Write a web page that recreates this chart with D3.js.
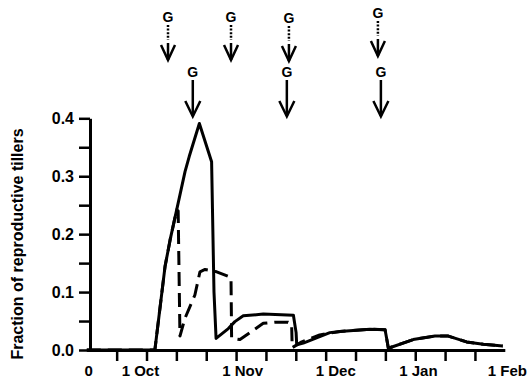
<!DOCTYPE html>
<html>
<head>
<meta charset="utf-8">
<script src="https://cdn.jsdelivr.net/npm/d3@7"></script>
<style>
  body { margin: 0; background: #fff; }
  text { font-family: "Liberation Sans", Arial, sans-serif; font-weight: bold; }
</style>
</head>
<body>
<svg id="chart" width="528" height="381"></svg>
<script>
// days since start (0 = mid Sept), fraction of reproductive tillers
var solidDays = [0, 22.8, 26.2, 27.9, 30.1, 32.9, 34.3, 37.7, 41.8, 42.6, 43.3, 47.4, 49.6, 52.4, 59.1, 69.2, 70.1, 70.3, 72.5, 81.4, 84.8, 94.8, 99.9, 100.6, 101, 109.3, 116.6, 121.1, 127.2, 132.8, 139.3];
var solidVals = [0, 0, 0.144, 0.19, 0.242, 0.308, 0.334, 0.391, 0.325, 0.1, 0.02, 0.037, 0.049, 0.059, 0.062, 0.06, 0.03, 0.009, 0.012, 0.03, 0.032, 0.036, 0.035, 0.015, 0.003, 0.018, 0.024, 0.024, 0.014, 0.01, 0.007];

var dashDays = [0, 22.8, 26.2, 27.9, 30.1, 30.6, 31.2, 32.9, 36.2, 37.9, 39.6, 43.5, 47.4, 48.3, 48.5, 51.3, 59.1, 63, 67.4, 68.6, 68.8, 72, 78, 84.8, 94.8, 99.9, 101, 109.3, 116.6, 121.1, 127.2, 132.8, 139.3];
var dashVals = [0, 0, 0.144, 0.19, 0.242, 0.24, 0.024, 0.055, 0.095, 0.135, 0.139, 0.135, 0.127, 0.124, 0.02, 0.018, 0.046, 0.048, 0.048, 0.045, 0.004, 0.014, 0.026, 0.032, 0.036, 0.035, 0.003, 0.018, 0.024, 0.024, 0.014, 0.01, 0.007];

var xTickDays = [10, 20, 30, 40, 50, 60, 70, 80, 90, 100, 110, 120, 130];
var xLabels = ["0", "1 Oct", "1 Nov", "1 Dec", "1 Jan", "1 Feb"];
var xLabelDays = [0.5, 17.8, 52, 83.2, 110.9, 140.7];
var yTicks = [0, 0.05, 0.1, 0.15, 0.2, 0.25, 0.3, 0.35, 0.4];

// grazing events (G)
var dottedArrowDays = [27.2, 48.3, 67.7, 97.5];
var solidArrowDays = [35.5, 67.0, 98.5];

var svg = d3.select("#chart");
var x = d3.scaleLinear().domain([0, 140]).range([86.8, 504.8]);
var y = d3.scaleLinear().domain([0, 0.4]).range([350, 118.3]);

function styleAxis(g) {
    g.selectAll("path.domain").attr("stroke", "#000").attr("stroke-width", 3);
    g.selectAll(".tick line").attr("stroke", "#000").attr("stroke-width", 2.5);
    g.selectAll("text").attr("fill", "#000");
}

// y axis
svg.append("g")
    .attr("transform", "translate(90,0)")
    .call(d3.axisLeft(y).tickValues(yTicks).tickSize(11).tickSizeOuter(0).tickPadding(5)
        .tickFormat(d => (Math.round(d * 100) % 10 === 0 ? d.toFixed(1) : "")))
    .call(styleAxis)
    .selectAll("text").style("font-size", "16px").style("font-weight", "bold")
    .style("font-family", "'Liberation Sans', Arial, sans-serif");

// x axis ticks
svg.append("g")
    .attr("transform", "translate(0,350)")
    .call(d3.axisBottom(x).tickValues(xTickDays).tickSize(11).tickSizeOuter(0).tickFormat(""))
    .call(styleAxis);

// x axis labels
var labelAxis = svg.append("g")
    .attr("transform", "translate(0,350)")
    .call(d3.axisBottom(x).tickValues(xLabelDays).tickSize(0).tickPadding(15)
        .tickFormat((d, i) => xLabels[i]));
labelAxis.select("path.domain").remove();
labelAxis.selectAll("text").attr("fill", "#000").style("font-size", "15px")
    .style("font-weight", "bold").style("font-family", "'Liberation Sans', Arial, sans-serif");

// y label
svg.append("text")
    .attr("transform", "translate(23,244) rotate(-90)")
    .attr("text-anchor", "middle")
    .style("font-size", "16px")
    .text("Fraction of reproductive tillers");

var line = d3.line().x(d => x(d[0])).y(d => y(d[1]));

svg.append("path")
    .datum(dashDays.map((d, i) => [d, dashVals[i]]))
    .attr("fill", "none").attr("stroke", "#000").attr("stroke-width", 3)
    .attr("stroke-dasharray", "14,7")
    .attr("stroke-linejoin", "round")
    .attr("d", line);

svg.append("path")
    .datum(solidDays.map((d, i) => [d, solidVals[i]]))
    .attr("fill", "none").attr("stroke", "#000").attr("stroke-width", 3)
    .attr("stroke-linejoin", "round")
    .attr("d", line);

// dotted-shaft arrows (top row)
var lift = [0, 0, -1, 4];
dottedArrowDays.forEach(function (d, i) {
    var cx = x(d), o = -lift[i];
    var g = svg.append("g").attr("transform", `translate(${cx},${o})`);
    g.append("text").attr("x", 0).attr("y", 22).attr("text-anchor", "middle")
        .style("font-size", "14px").text("G");
    g.append("line").attr("x1", 0).attr("x2", 0).attr("y1", 25).attr("y2", 40)
        .attr("stroke", "#000").attr("stroke-width", 2.5).attr("stroke-dasharray", "2,1.6");
    g.append("line").attr("x1", 0).attr("x2", 0).attr("y1", 43).attr("y2", 60)
        .attr("stroke", "#000").attr("stroke-width", 2.5);
    g.append("path").attr("d", "M-7,45L0,60L7,45")
        .attr("fill", "none").attr("stroke", "#000").attr("stroke-width", 2.5);
});

// solid arrows (second row)
solidArrowDays.forEach(function (d) {
    var cx = x(d);
    var g = svg.append("g").attr("transform", `translate(${cx},0)`);
    g.append("text").attr("x", 0).attr("y", 77).attr("text-anchor", "middle")
        .style("font-size", "14px").text("G");
    g.append("line").attr("x1", 0).attr("x2", 0).attr("y1", 80).attr("y2", 116)
        .attr("stroke", "#000").attr("stroke-width", 2.5);
    g.append("path").attr("d", "M-7.5,101L0,116.5L7.5,101")
        .attr("fill", "none").attr("stroke", "#000").attr("stroke-width", 2.5);
});
</script>
</body>
</html>
